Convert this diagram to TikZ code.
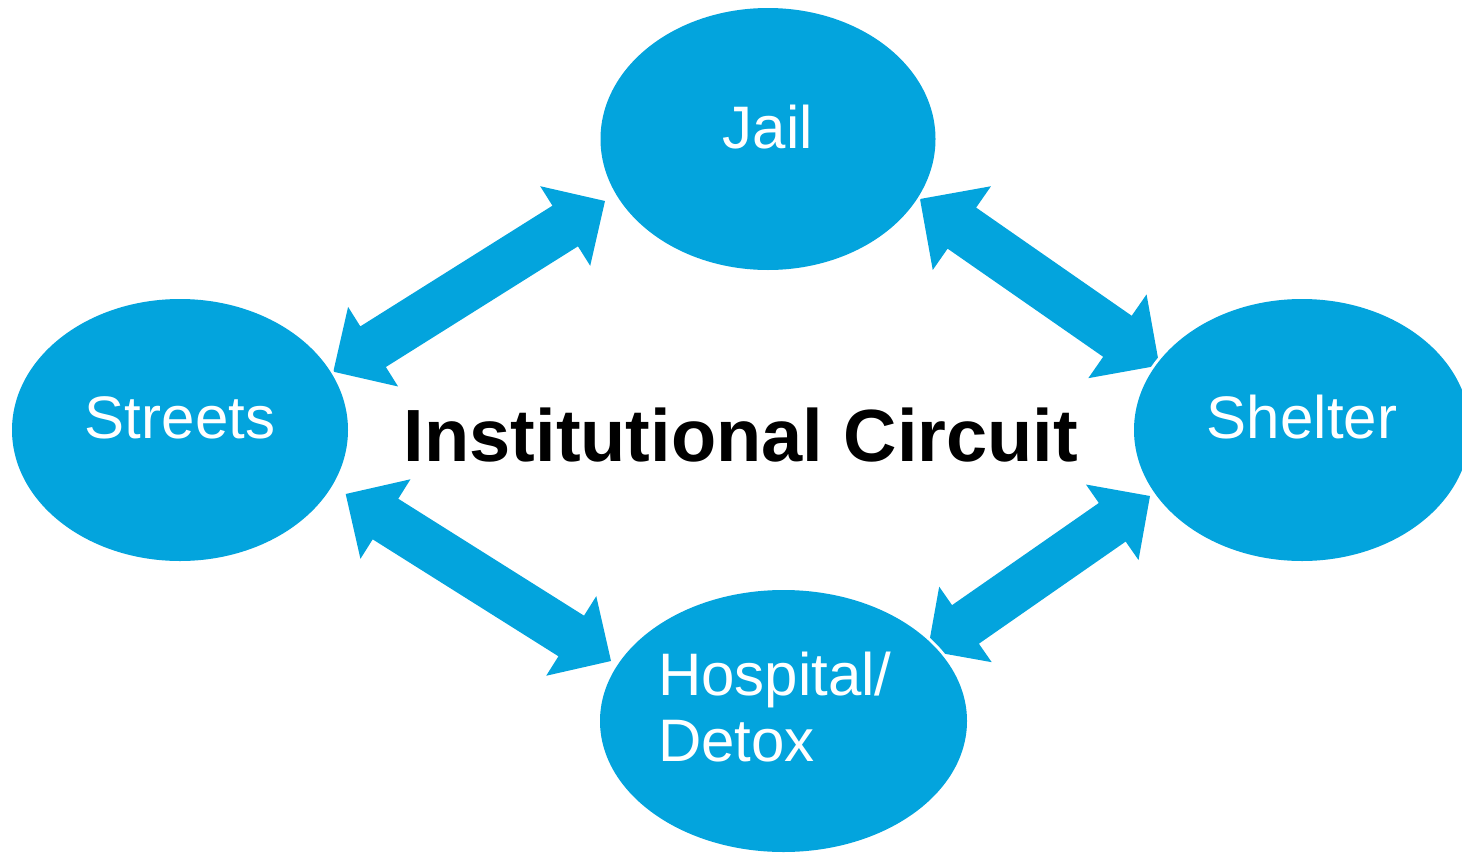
\documentclass[tikz,border=0pt]{standalone}
\usepackage{fontspec}
\setmainfont{Liberation Sans}
\usetikzlibrary{calc,shapes.geometric}
\definecolor{cblue}{RGB}{3,164,221}
\tikzset{
  blob/.style={ellipse, fill=cblue, inner sep=0pt, preaction={draw=white, line width=6pt}},
  lbl/.style={text=white, font=\fontsize{60}{66}\selectfont, inner sep=0pt, anchor=base},
  barrow/.style={fill=cblue},
  titletext/.style={font=\bfseries\fontsize{74}{80}\selectfont, inner sep=0pt, anchor=base}
}
\newcommand{\blockarrow}[5]{%
  \coordinate (ha) at ($(#1)!#3!(#2)$);
  \coordinate (hb) at ($(#2)!#3!(#1)$);
  \path[barrow] (#1) -- ($(ha)!#4!90:(#2)$) -- ($(ha)!#5!90:(#2)$)
    -- ($(hb)!#5!-90:(#1)$) -- ($(hb)!#4!-90:(#1)$) -- (#2)
    -- ($(hb)!#4!90:(#1)$) -- ($(hb)!#5!90:(#1)$)
    -- ($(ha)!#5!-90:(#2)$) -- ($(ha)!#4!-90:(#2)$) -- cycle;
}
\begin{document}
\begin{tikzpicture}[x=1pt,y=-1pt]
\useasboundingbox (0,0) rectangle (1462,854);
\clip (0,0) rectangle (1462,854);
% arrow tips
\coordinate (sj1) at (333.3,371.7);
\coordinate (sj2) at (605,201);
\coordinate (js1) at (920,199);
\coordinate (js2) at (1159.3,365.4);
\coordinate (sh1) at (345.7,494);
\coordinate (sh2) at (611,661);
\coordinate (hs1) at (1150,496);
\coordinate (hs2) at (927.7,650.7);
\blockarrow{sj1}{sj2}{47pt}{47pt}{24pt}
\blockarrow{js1}{js2}{51pt}{51pt}{25pt}
\blockarrow{sh1}{sh2}{47pt}{47pt}{24pt}
\blockarrow{hs1}{hs2}{46pt}{46pt}{23.5pt}
% ellipses
\node[blob, minimum width=335pt, minimum height=262pt] (jail) at (768,139) {};
\node[blob, minimum width=336pt, minimum height=262pt] (streets) at (180,430) {};
\node[blob, minimum width=336pt, minimum height=262pt] (shelter) at (1302,430) {};
\node[blob, minimum width=367pt, minimum height=262pt] (hosp) at (783.5,721) {};
% labels
\node[lbl] (jailt) at (768,148) {Jail};
\node[lbl] (streetst) at (180,438) {Streets};
\node[lbl] (sheltert) at (1302,438) {Shelter};
\node[lbl, anchor=base west, align=left] (hospt) at (658,761) {Hospital/\\Detox};
\node[titletext] (circ) at (741,461) {Institutional Circuit};
\end{tikzpicture}
\end{document}
